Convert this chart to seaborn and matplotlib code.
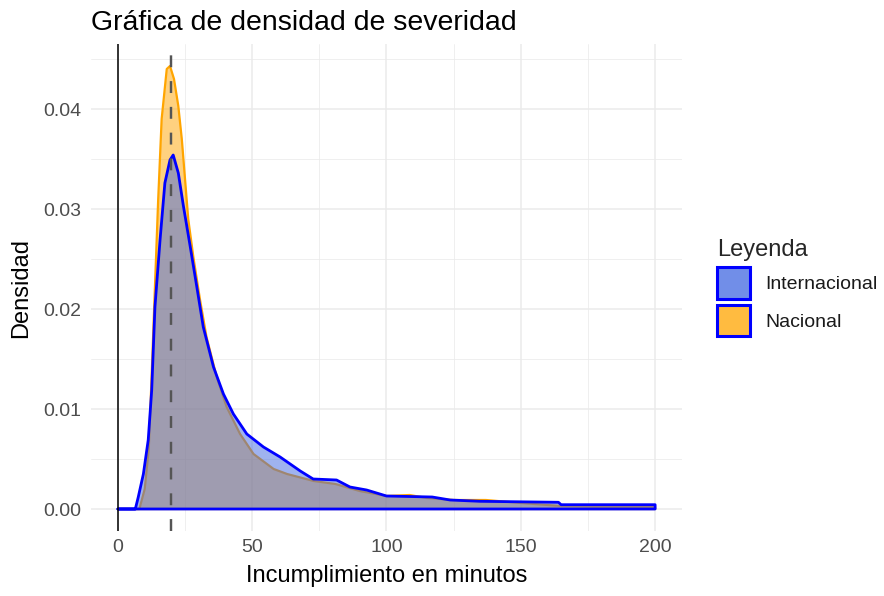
import numpy as np
import pandas as pd
import matplotlib
matplotlib.use("Agg")
import matplotlib.pyplot as plt
from matplotlib.patches import Patch
from matplotlib.ticker import MultipleLocator
from matplotlib.colors import to_rgba
import seaborn as sns

# ---- data ----
categories = ["Internacional", "Nacional"]

int_x = [0, 6.5, 7.6, 9.5, 11.3, 12.6, 13.8, 15.7, 17.5, 19.4, 20.6, 22.5, 24.4,
         26.9, 29.4, 31.8, 35.6, 39.3, 43.0, 48.0, 54.2, 60.4, 67.9, 72.7, 81.4,
         86.4, 92.6, 100, 117, 123.7, 134.8, 164, 165, 200]
int_y = [0, 0, 0.0012, 0.0035, 0.0069, 0.0119, 0.0202, 0.0269, 0.0326, 0.0349,
         0.0354, 0.0336, 0.0303, 0.0263, 0.0222, 0.0182, 0.0142, 0.0115, 0.0095,
         0.0075, 0.0062, 0.0052, 0.0038, 0.0030, 0.0029, 0.0022, 0.0019, 0.0013,
         0.0012, 0.0009, 0.00077, 0.00067, 0.00043, 0.00043]

nac_x = [0, 8, 10, 11.5, 12.6, 13.8, 15.0, 16.3, 18.2, 19.4, 20.9, 22.5, 23.8,
         25.0, 26.2, 28.1, 30.6, 33.0, 36.8, 40.5, 45.5, 50.5, 58.0, 63.0, 72.9,
         81, 90, 100, 108.6, 115, 125, 137, 150, 165, 180, 200]
nac_y = [0, 0, 0.002, 0.006, 0.0135, 0.0222, 0.0309, 0.039, 0.0440, 0.0443,
         0.0430, 0.0403, 0.0370, 0.0330, 0.0290, 0.0252, 0.0209, 0.0172, 0.0132,
         0.0102, 0.0075, 0.0055, 0.0040, 0.0035, 0.0028, 0.0025, 0.0018, 0.0013,
         0.0014, 0.0011, 0.0009, 0.0009, 0.0006, 0.0003, 0.0002, 0.0002]

mode_line = 19.7
x_ticks = [0, 50, 100, 150, 200]
y_ticks = [0.00, 0.01, 0.02, 0.03, 0.04]

# ---- style ----
sns.set_style("white")
plt.rcParams['font.family'] = ['Liberation Sans', 'DejaVu Sans']

W, H = 884, 596
fig = plt.figure(figsize=(W / 100, H / 100), dpi=100)
L, R, T, B = 91, 682, 44, 531
ax = fig.add_axes([L / W, (H - B) / H, (R - L) / W, (B - T) / H])

fills = {"Internacional": "#4169e1", "Nacional": "#ffa500"}
edges = {"Internacional": "#0000ff", "Nacional": "#ffa500"}

series = {"Nacional": (nac_x, nac_y), "Internacional": (int_x, int_y)}
z = 2
for name in ["Nacional", "Internacional"]:
    xs, ys = series[name]
    ax.fill_between(xs, 0, ys, color=fills[name], alpha=0.5, linewidth=0, zorder=z)
    # closed outline (curve, drop at right end, baseline back)
    px = list(xs) + [xs[-1], xs[0]]
    py = list(ys) + [0, 0]
    df = pd.DataFrame({"x": px, "y": py})
    sns.lineplot(data=df, x="x", y="y", ax=ax, sort=False, estimator=None,
                 color=edges[name], linewidth=2.0 if name == "Internacional" else 1.6,
                 zorder=z + 1)
    z += 2

ax.axvline(0, color="black", linewidth=1.1, zorder=10)
ax.axvline(mode_line, color="#555555", linewidth=1.75, linestyle=(0, (4.9, 5.7)), zorder=11)

ax.set_xlim(-10, 210)
ax.set_ylim(-0.0022, 0.0465)
ax.set_xticks(x_ticks)
ax.set_xticklabels([str(v) for v in x_ticks])
ax.set_yticks(y_ticks)
ax.set_yticklabels([f"{v:.2f}" for v in y_ticks])
ax.xaxis.set_minor_locator(MultipleLocator(25))
ax.yaxis.set_minor_locator(MultipleLocator(0.005))
ax.grid(True, which="major", color="#ebebeb", linewidth=1.1, zorder=0)
ax.grid(True, which="minor", color="#ebebeb", linewidth=0.55, zorder=0)
ax.set_axisbelow(True)
for s in ax.spines.values():
    s.set_visible(False)
ax.tick_params(axis="both", which="both", length=0, labelsize=14, labelcolor="#4d4d4d")
ax.tick_params(axis="x", pad=6)
ax.tick_params(axis="y", pad=7)

ax.set_xlabel("Incumplimiento en minutos", fontsize=17, color="black", labelpad=6)
ax.set_ylabel("Densidad", fontsize=17, color="black", labelpad=8)
ax.set_title("Gráfica de densidad de severidad", loc="left", fontsize=20.5,
             color="black", pad=10)

# legend (keys drawn with the doubled alpha look of the reference)
handles = [Patch(facecolor=to_rgba(fills[c], 0.75), edgecolor="#0000ff", linewidth=2.2)
           for c in categories]
leg = ax.legend(handles, categories, title="Leyenda", loc="upper left",
                bbox_to_anchor=(717 / W, 1 - 239 / H), bbox_transform=fig.transFigure,
                frameon=False, fontsize=14, title_fontsize=17,
                handlelength=1.7, handleheight=2.1, handletextpad=0.8,
                labelspacing=0.32, borderpad=0, borderaxespad=0)
leg._legend_box.align = "left"
for t in leg.get_texts():
    t.set_color("#1a1a1a")

fig.savefig("out.png", dpi=100)
